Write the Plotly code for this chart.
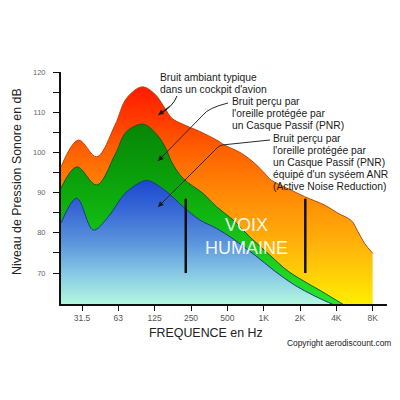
import math
import plotly.graph_objects as go

# ---------------- data ----------------
freq_cockpit = [21.1, 29.4, 41.7, 59.1, 73.8, 99.3, 126.4, 153, 175, 216, 298, 410, 480,
                659, 849, 1027, 1167, 1708, 2201, 3220, 4149, 5387, 6036, 6899, 8064]
db_cockpit = [96.4, 103.1, 98.9, 106.8, 113.5, 116.3, 114.5, 111.0, 108.5, 107.0, 105.2, 103.1, 101.8,
              99.8, 97.3, 94.8, 93.1, 90.6, 89.0, 86.9, 84.9, 83.0, 80.5, 77.4, 74.9]

freq_pnr = [21.1, 28.5, 41.7, 59.1, 73.8, 101.2, 126.4, 153, 175, 217, 317, 410, 562,
            772, 1130, 1601, 2343, 3024, 4713]
db_pnr = [91.1, 96.4, 91.9, 99.4, 105.2, 107.0, 105.0, 101.5, 97.5, 93.5, 89.8, 86.5, 83.2,
          79.0, 74.5, 70.5, 67.4, 65.5, 62.0]

freq_anr = [21.1, 28.5, 39.1, 52.0, 71.4, 98.2, 111.3, 153, 217, 298, 410, 562,
            849, 1243, 1820, 2662, 3897]
db_anr = [82.4, 88.6, 80.7, 84.0, 89.8, 92.7, 93.0, 90.6, 86.5, 83.2, 81.1, 78.5,
          74.5, 70.5, 67.0, 64.3, 62.0]

voice_hz = [228, 2230]
voice_db = [70, 88.5]

tick_hz = [31.5, 63, 126, 252, 504, 1008, 2016, 4032, 8064]
tick_labels = ["31.5", "63", "125", "250", "500", "1K", "2K", "4K", "8K"]

y_ticks = [70, 75, 80, 85, 90, 95, 100, 105, 110, 115, 120]
y_labels = ["70", "", "80", "", "90", "", "100", "", "110", "", "120"]

FONT = "Liberation Sans, Arial, sans-serif"

fig = go.Figure()

fig.add_trace(go.Scatter(
    x=freq_cockpit, y=db_cockpit, mode="lines", line=dict(shape="spline", color="#b34a10", width=1),
    fill="tozeroy",
    fillgradient=dict(type="vertical", start=62.3, stop=116.5,
                      colorscale=[[0, "#ffee00"], [0.15, "#ffcc08"], [0.3, "#ffad0a"],
                                  [0.5, "#ff8a06"], [0.7, "#ff6200"], [0.85, "#ff3a00"],
                                  [1, "#ff1a00"]]),
    hoverinfo="skip", showlegend=False))

fig.add_trace(go.Scatter(
    x=freq_pnr, y=db_pnr, mode="lines", line=dict(shape="spline", color="#0a5c0a", width=1),
    fill="tozeroy",
    fillgradient=dict(type="vertical", start=62.3, stop=107,
                      colorscale=[[0, "#28e628"], [0.4, "#14c014"], [0.7, "#0aa00a"],
                                  [1, "#078507"]]),
    hoverinfo="skip", showlegend=False))

fig.add_trace(go.Scatter(
    x=freq_anr, y=db_anr, mode="lines", line=dict(shape="spline", color="#1a3a8a", width=1),
    fill="tozeroy",
    fillgradient=dict(type="vertical", start=62.3, stop=93,
                      colorscale=[[0, "#b4f8e0"], [0.25, "#86c8e4"], [0.5, "#5a94dc"],
                                  [0.75, "#3a6ad6"], [1, "#1c48d2"]]),
    hoverinfo="skip", showlegend=False))

vx, vy = [], []
for f in voice_hz:
    vx += [f, f, None]
    vy += [voice_db[0], voice_db[1], None]
fig.add_trace(go.Scatter(x=vx, y=vy, mode="lines", line=dict(color="#111111", width=2.5),
                         hoverinfo="skip", showlegend=False))

# ---------------- layout helpers ----------------
L, R, T, B = 61, 387, 72, 304


def px(x):
    return (x - L) / (R - L)


def py(y):
    return (B - y) / (B - T)


annotations = []


def label(text, x, y, size=10.3, xanchor="left", color="#1a1a1a"):
    annotations.append(dict(text=text, x=px(x), y=py(y), xref="paper", yref="paper",
                            xanchor=xanchor, yanchor="middle", showarrow=False,
                            font=dict(family=FONT, size=size, color=color)))


label("Bruit ambiant typique", 158, 77)
label("dans un cockpit d'avion", 158, 89)
label("Bruit perçu par", 230, 101)
label("l'oreille protégée par", 230, 113)
label("un Casque Passif (PNR)", 230, 125)
for i, t in enumerate(["Bruit perçu par", "l'oreille protégée par", "un Casque Passif (PNR)",
                       "équipé d'un syséem ANR", "(Active Noise Reduction)"]):
    label(t, 271, 138 + 12 * i)

annotations.append(dict(text="VOIX<br>HUMAINE", x=px(246), y=py(236), xref="paper", yref="paper",
                        xanchor="center", yanchor="middle", showarrow=False,
                        font=dict(family=FONT, size=18, color="rgba(255,255,255,0.93)")))

label("FREQUENCE en Hz", 206, 333, size=12.4, xanchor="center", color="#222222")
label("Copyright aerodiscount.com", 393, 343, size=8.4, xanchor="right", color="#222222")
annotations.append(dict(text="Niveau de Pression Sonore en dB", x=px(17), y=py(182),
                        xref="paper", yref="paper", xanchor="center", yanchor="middle",
                        textangle=-90, showarrow=False,
                        font=dict(family=FONT, size=12.4, color="#222222")))

# arrow heads
for (hx, hy, ax, ay) in [(158.3, 115, 13, -10), (158, 161, 9, -9), (158, 207, 9, -9)]:
    annotations.append(dict(text="", x=px(hx), y=py(hy), xref="paper", yref="paper",
                            showarrow=True, ax=ax, ay=ay, arrowhead=2, arrowsize=1.1,
                            arrowwidth=1, arrowcolor="#1a1a1a", standoff=0))


def path(points):
    # points: list of (cmd, [(x,y),...]) in pixel space
    s = ""
    for cmd, pts in points:
        s += cmd + " " + " ".join(f"{px(x):.4f},{py(y):.4f}" for x, y in pts) + " "
    return s.strip()


shapes = [
    dict(type="path", xref="paper", yref="paper",
         path=path([("M", [(177, 96)]), ("Q", [(173, 107), (158.3, 115)])]),
         line=dict(color="#1a1a1a", width=1)),
    dict(type="path", xref="paper", yref="paper",
         path=path([("M", [(228, 103)]), ("Q", [(208, 108), (203, 115)]), ("L", [(158, 161)])]),
         line=dict(color="#2a2a2a", width=1)),
    dict(type="path", xref="paper", yref="paper",
         path=path([("M", [(270, 140)]), ("L", [(222, 145)]), ("Q", [(218, 146), (215, 150)]),
                    ("L", [(158, 207)])]),
         line=dict(color="#2a2a2a", width=1)),
]

fig.update_layout(
    width=400, height=400,
    margin=dict(l=L, r=400 - R, t=T, b=400 - B),
    paper_bgcolor="white", plot_bgcolor="white",
    annotations=annotations, shapes=shapes,
    xaxis=dict(type="log", range=[math.log10(21.1), math.log10(10600)],
               tickvals=tick_hz, ticktext=tick_labels, ticks="outside", ticklen=5,
               tickcolor="#111", showgrid=False, zeroline=False, showline=True,
               linecolor="#111", linewidth=2,
               tickfont=dict(family=FONT, size=8.5, color="#555555")),
    yaxis=dict(range=[62.3, 120], tickvals=y_ticks, ticktext=y_labels, ticks="outside",
               ticklen=6, tickcolor="#111", showgrid=False, zeroline=False, showline=True,
               linecolor="#111", linewidth=2, ticklabelstandoff=6,
               tickfont=dict(family=FONT, size=7.5, color="#666666")),
)

fig.write_html("out.html", config={"displayModeBar": False},
               post_script="document.body.style.margin='0';document.body.style.overflow='hidden';")
